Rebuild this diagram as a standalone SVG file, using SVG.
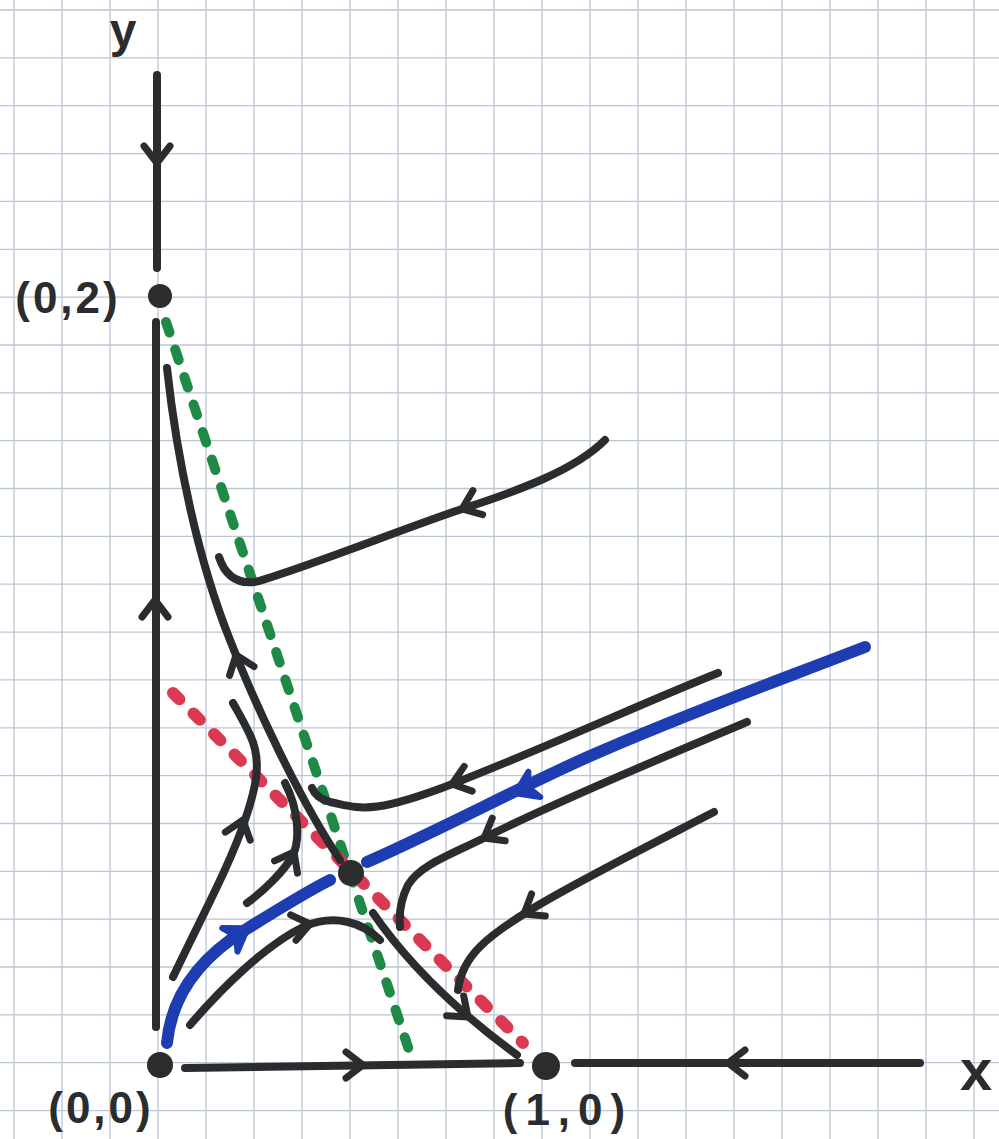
<svg xmlns="http://www.w3.org/2000/svg" xmlns:xlink="http://www.w3.org/1999/xlink" width="999" height="1139" viewBox="0 0 999 1139">
<style>
.grid{fill:none;stroke:#bcc5d6;stroke-width:1.3}
.ink{fill:none;stroke:#2a2c2e;stroke-width:8;stroke-linecap:round;stroke-linejoin:round}
.blue{fill:none;stroke:#1f3db3;stroke-width:12;stroke-linecap:round}
.green{fill:none;stroke:#1f8a48;stroke-width:10;stroke-linecap:round;stroke-dasharray:11 18}
.red{fill:none;stroke:#d93a52;stroke-width:12;stroke-linecap:round;stroke-dasharray:9 20}
.dot{fill:#2a2c2e}
.lbl{font-family:"Liberation Sans",Arial,sans-serif;font-weight:bold;fill:#2a2c2e}
</style>
<defs>
<path id="chev" d="M-17,-13 L0,0 L-17,13" fill="none" stroke="#2a2c2e" stroke-width="7" stroke-linecap="round" stroke-linejoin="round"/>
<path id="bchev" d="M-18,-14 L3,0 L-18,14 L-11,0 Z" fill="#1f3db3" stroke="#1f3db3" stroke-width="6" stroke-linejoin="round"/>
</defs>
<rect width="999" height="1139" fill="#ffffff"/>
<path class="grid" d="M14,0V1139 M62,0V1139 M110,0V1139 M158,0V1139 M206,0V1139 M254,0V1139 M302,0V1139 M350,0V1139 M398,0V1139 M446,0V1139 M494,0V1139 M542,0V1139 M590,0V1139 M638,0V1139 M686,0V1139 M734,0V1139 M782,0V1139 M830,0V1139 M878,0V1139 M926,0V1139 M974,0V1139 M0,10H999 M0,57.9H999 M0,105.7H999 M0,153.6H999 M0,201.4H999 M0,249.3H999 M0,297.1H999 M0,345H999 M0,392.8H999 M0,440.7H999 M0,488.5H999 M0,536.4H999 M0,584.2H999 M0,632.1H999 M0,679.9H999 M0,727.8H999 M0,775.6H999 M0,823.5H999 M0,871.3H999 M0,919.2H999 M0,967H999 M0,1014.9H999 M0,1062.7H999 M0,1110.6H999"/>

<g id="nullclines">
<path class="green" d="M166,322 L410,1053"/>
<path class="red" d="M173,693 L523,1043"/>
</g>

<g id="connectors">
<path class="ink" d="M157,75 L157,268"/>
<path class="ink" d="M156,322 L156,1027"/>
<path class="ink" d="M185,1068 L520,1063"/>
<path class="ink" d="M575,1063 L920,1063"/>
<path class="ink" d="M167,368 C177,460 198,560 230,640 C255,705 300,800 340,860"/>
<path class="ink" d="M373,913 C395,945 435,995 517,1055"/>
<path class="ink" d="M605,440 C575,470 520,490 465,508 S300,570 255,582 Q228,585 219,557"/>
<path class="ink" d="M718,673 C650,700 540,750 455,783 S360,808 330,802 Q316,798 312,788"/>
<path class="ink" d="M747,722 C680,750 560,800 486,837 C450,855 420,865 408,885 Q398,905 400,927"/>
<path class="ink" d="M714,812 C650,845 570,885 527,912 C490,935 462,955 458,990"/>
<path class="ink" d="M173,977 C200,920 230,865 245,820 C257,785 262,760 250,735 C244,722 238,712 233,703"/>
<path class="ink" d="M247,903 C265,890 285,870 293,855 C300,840 299,810 285,783"/>
<path class="ink" d="M190,1025 C220,990 265,945 305,926 C335,914 362,922 380,940"/>
<path class="blue" d="M167,1043 C172,990 205,955 245,930 S310,890 330,880"/>
<path class="blue" d="M865,647 C780,680 690,712 590,756 C520,787 440,830 367,862"/>
<use xlink:href="#chev" transform="translate(157,163) rotate(90)"/>
<use xlink:href="#chev" transform="translate(155,600) rotate(-90)"/>
<use xlink:href="#chev" transform="translate(363,1065) rotate(0)"/>
<use xlink:href="#chev" transform="translate(728,1063) rotate(180)"/>
<use xlink:href="#chev" transform="translate(236,655) rotate(-110)"/>
<use xlink:href="#chev" transform="translate(468,1017) rotate(41)"/>
<use xlink:href="#chev" transform="translate(462,509) rotate(158)"/>
<use xlink:href="#chev" transform="translate(452,784) rotate(162)"/>
<use xlink:href="#chev" transform="translate(484,838) rotate(150)"/>
<use xlink:href="#chev" transform="translate(524,914) rotate(148)"/>
<use xlink:href="#chev" transform="translate(243,820) rotate(-72)"/>
<use xlink:href="#chev" transform="translate(294,852) rotate(-62)"/>
<use xlink:href="#chev" transform="translate(310,924) rotate(-12)"/>
<use xlink:href="#bchev" transform="translate(518,792) rotate(155)"/>
<use xlink:href="#bchev" transform="translate(245,930) rotate(-33)"/>
</g>

<g id="p02"><circle class="dot" cx="160" cy="296" r="12"/><text class="lbl" x="68" y="313" font-size="44" text-anchor="middle" letter-spacing="3">(0,2)</text></g>
<g id="p00"><circle class="dot" cx="160" cy="1065" r="13"/><text class="lbl" x="101" y="1123" font-size="44" text-anchor="middle" letter-spacing="3">(0,0)</text></g>
<g id="p10"><circle class="dot" cx="546" cy="1066" r="14"/><text class="lbl" x="568" y="1125" font-size="44" text-anchor="middle" letter-spacing="8">(1,0)</text></g>
<g id="saddle"><circle class="dot" cx="351" cy="873" r="13"/></g>
<g id="ylabel"><text class="lbl" x="123" y="47" font-size="48" text-anchor="middle">y</text></g>
<g id="xlabel"><text class="lbl" x="960" y="1090" font-size="58">x</text></g>
</svg>
